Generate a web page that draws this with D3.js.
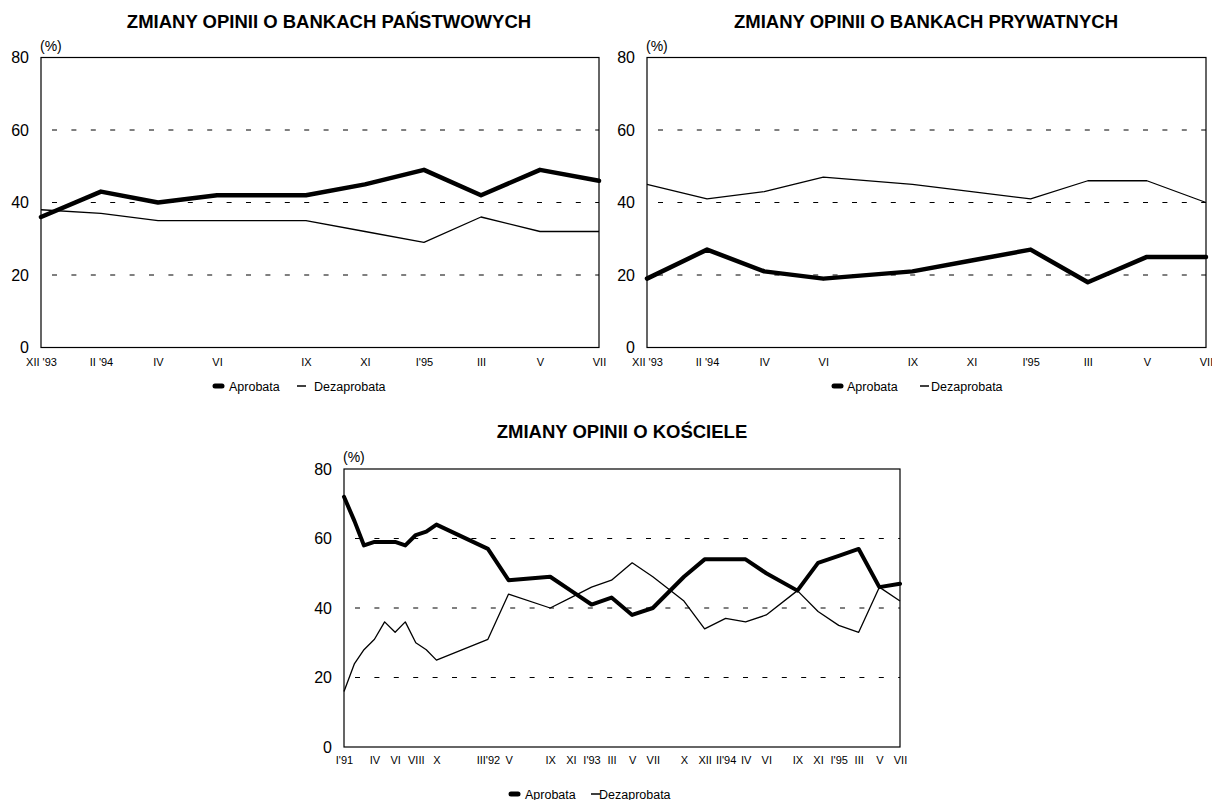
<!DOCTYPE html>
<html>
<head>
<meta charset="utf-8">
<script src="https://cdn.jsdelivr.net/npm/d3@7"></script>
<style>
  body { margin: 0; background: #fff; }
  text { font-family: "Liberation Sans", Arial, sans-serif; fill: #000; }
</style>
</head>
<body>
<div id="chart"></div>
<script>
// survey months (bank charts share them)
const bankDates = ["1993-12", "1994-02", "1994-04", "1994-06", "1994-09", "1994-11", "1995-01", "1995-03", "1995-05", "1995-07"];
const bankTickLabels = ["XII '93", "II '94", "IV", "VI", "IX", "XI", "I'95", "III", "V", "VII"];

const stateAprobata = [36, 43, 40, 42, 42, 45, 49, 42, 49, 46];
const stateDezaprobata = [38, 37, 35, 35, 35, 32, 29, 36, 32, 32];

const privateAprobata = [19, 27, 21, 19, 21, 24, 27, 18, 25, 25];
const privateDezaprobata = [45, 41, 43, 47, 45, 43, 41, 46, 46, 40];

const churchDates = ["1991-01", "1991-02", "1991-03", "1991-04", "1991-05", "1991-06", "1991-07", "1991-08", "1991-09", "1991-10",
    "1992-03", "1992-05", "1992-09", "1992-11", "1993-01", "1993-03", "1993-05", "1993-07", "1993-10", "1993-12",
    "1994-02", "1994-04", "1994-06", "1994-09", "1994-11", "1995-01", "1995-03", "1995-05", "1995-07"];
const churchAprobata = [72, 65, 58, 59, 59, 59, 58, 61, 62, 64,
    57, 48, 49, 45, 41, 43, 38, 40, 49, 54,
    54, 54, 50, 45, 53, 55, 57, 46, 47];
const churchDezaprobata = [16, 24, 28, 31, 36, 33, 36, 30, 28, 25,
    31, 44, 40, 43, 46, 48, 53, 49, 42, 34,
    37, 36, 38, 45, 39, 35, 33, 46, 42];

const churchTickDates = ["1991-01", "1991-04", "1991-06", "1991-08", "1991-10", "1992-03", "1992-05", "1992-09", "1992-11",
    "1993-01", "1993-03", "1993-05", "1993-07", "1993-10", "1993-12", "1994-02", "1994-04", "1994-06", "1994-09",
    "1994-11", "1995-01", "1995-03", "1995-05", "1995-07"];
const churchTickLabels = ["I'91", "IV", "VI", "VIII", "X", "III'92", "V", "IX", "XI",
    "I'93", "III", "V", "VII", "X", "XII", "II'94", "IV", "VI", "IX",
    "XI", "I'95", "III", "V", "VII"];

const yTicks = [0, 20, 40, 60, 80];
const gridValues = [20, 40, 60];
const seriesNames = ["Aprobata", "Dezaprobata"];

const parseMonth = d3.timeParse("%Y-%m");

width = 1212;
height = 800;

var svg = d3.select("#chart")
    .append("svg")
    .attr("width", width)
    .attr("height", height)
    .attr("viewBox", [0, 0, width, height]);

function drawChart(c) {
    const dates = c.dates.map(parseMonth);

    const x = d3.scaleTime()
        .domain(d3.extent(dates))
        .range([c.left, c.right]);

    const y = d3.scaleLinear()
        .domain([0, 80])
        .range([c.bottom, c.top]);

    const g = svg.append("g");

    // title
    g.append("text")
        .attr("x", c.titleX)
        .attr("y", c.titleY)
        .attr("text-anchor", "middle")
        .style("font-size", "18.5px")
        .style("font-weight", "bold")
        .text(c.title);

    // dashed gridlines
    g.append("g")
        .selectAll("line")
        .data(gridValues)
        .join("line")
        .attr("x1", c.left + 11)
        .attr("x2", c.right)
        .attr("y1", d => y(d))
        .attr("y2", d => y(d))
        .attr("stroke", "#000")
        .attr("stroke-width", 1)
        .attr("stroke-dasharray", "5,14.4");

    // frame
    g.append("rect")
        .attr("x", c.left)
        .attr("y", c.top)
        .attr("width", c.right - c.left)
        .attr("height", c.bottom - c.top)
        .attr("fill", "none")
        .attr("stroke", "#000")
        .attr("stroke-width", 1.2);

    // y axis
    g.append("g")
        .attr("transform", `translate(${c.left},0)`)
        .call(d3.axisLeft(y).tickValues(yTicks).tickSize(0).tickPadding(12))
        .call(a => a.select(".domain").remove())
        .selectAll("text")
        .style("font-size", "16px");

    g.append("text")
        .attr("x", c.left - 1)
        .attr("y", c.top - 7)
        .style("font-size", "14px")
        .text("(%)");

    // x axis
    g.append("g")
        .attr("transform", `translate(0,${c.bottom})`)
        .call(d3.axisBottom(x)
            .tickValues(c.tickDates.map(parseMonth))
            .tickFormat((d, i) => c.tickLabels[i])
            .tickSize(0)
            .tickPadding(c.tickPad))
        .call(a => a.select(".domain").remove())
        .selectAll("text")
        .style("font-size", "11px");

    const line = d3.line()
        .x((d, i) => x(dates[i]))
        .y(d => y(d));

    // thin line first, thick on top
    g.append("path")
        .attr("d", line(c.dez))
        .attr("fill", "none")
        .attr("stroke", "#000")
        .attr("stroke-width", 1.3)
        .attr("stroke-linejoin", "round");

    g.append("path")
        .attr("d", line(c.apr))
        .attr("fill", "none")
        .attr("stroke", "#000")
        .attr("stroke-width", c.thick)
        .attr("stroke-linejoin", "round")
        .attr("stroke-linecap", "round");

    // legend
    const lg = g.append("g");
    lg.append("line")
        .attr("x1", c.legend[0] + 3).attr("x2", c.legend[0] + 10)
        .attr("y1", c.legendY).attr("y2", c.legendY)
        .attr("stroke", "#000").attr("stroke-width", 5).attr("stroke-linecap", "round");
    lg.append("line")
        .attr("x1", c.legend[2]).attr("x2", c.legend[2] + 9)
        .attr("y1", c.legendY).attr("y2", c.legendY)
        .attr("stroke", "#000").attr("stroke-width", 1.5);
    lg.selectAll("text")
        .data(seriesNames)
        .join("text")
        .attr("x", (d, i) => c.legend[i * 2 + 1])
        .attr("y", c.legendY)
        .attr("dy", "0.36em")
        .style("font-size", "12.5px")
        .text(d => d);
}

drawChart({
    title: "ZMIANY OPINII O BANKACH PAŃSTWOWYCH", titleX: 329, titleY: 28,
    left: 41, right: 599, top: 57.5, bottom: 347.5,
    dates: bankDates, tickDates: bankDates, tickLabels: bankTickLabels, tickPad: 11,
    apr: stateAprobata, dez: stateDezaprobata, thick: 4.5,
    legend: [212, 229, 297, 314], legendY: 386
});

drawChart({
    title: "ZMIANY OPINII O BANKACH PRYWATNYCH", titleX: 926, titleY: 28,
    left: 647, right: 1206, top: 57.5, bottom: 347.5,
    dates: bankDates, tickDates: bankDates, tickLabels: bankTickLabels, tickPad: 11,
    apr: privateAprobata, dez: privateDezaprobata, thick: 4.5,
    legend: [831, 847, 920, 931], legendY: 386
});

drawChart({
    title: "ZMIANY OPINII O KOŚCIELE", titleX: 622, titleY: 438,
    left: 344, right: 900, top: 469, bottom: 747,
    dates: churchDates, tickDates: churchTickDates, tickLabels: churchTickLabels, tickPad: 9,
    apr: churchAprobata, dez: churchDezaprobata, thick: 4,
    legend: [508, 525, 591, 599], legendY: 794
});
</script>
</body>
</html>
